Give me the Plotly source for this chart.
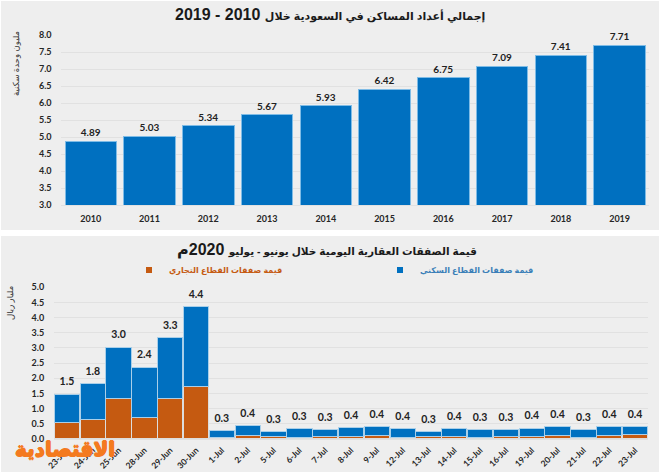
import plotly.graph_objects as go

W, H = 660, 472
years = ["2010","2011","2012","2013","2014","2015","2016","2017","2018","2019"]
dwellings = [4.89,5.03,5.34,5.67,5.93,6.42,6.75,7.09,7.41,7.71]

days = ["23-Jun","24-Jun","25-Jun","28-Jun","29-Jun","30-Jun","1-Jul","2-Jul","5-Jul","6-Jul","7-Jul","8-Jul",
        "9-Jul","12-Jul","13-Jul","14-Jul","15-Jul","16-Jul","19-Jul","20-Jul","21-Jul","22-Jul","23-Jul"]
commercial = [0.54,0.65,1.34,0.72,1.35,1.72,0.04,0.12,0.08,0.05,0.08,0.08,0.12,0.04,0.07,0.07,0.05,0.08,0.08,0.12,0.04,0.11,0.14]
residential = [0.94,1.17,1.69,1.65,1.98,2.65,0.23,0.32,0.17,0.29,0.22,0.29,0.30,0.30,0.17,0.26,0.25,0.24,0.28,0.30,0.26,0.31,0.26]
totals = [1.48,1.82,3.03,2.37,3.33,4.37,0.27,0.44,0.25,0.34,0.30,0.37,0.42,0.34,0.24,0.33,0.30,0.32,0.36,0.42,0.30,0.42,0.40]
total_labels = ["1.5","1.8","3.0","2.4","3.3","4.4","0.3","0.4","0.3","0.3","0.3","0.4","0.4","0.4","0.3","0.4","0.3","0.3","0.4","0.4","0.3","0.4","0.4"]

title_top_ar = "إجمالي أعداد المساكن في السعودية خلال"
title_top_num = "2010 - 2019"
title_bottom_ar = "قيمة الصفقات العقارية اليومية خلال يونيو - يوليو"
title_bottom_num = "2020م"
ytitle_top = "مليون وحدة سكنية"
ytitle_bottom = "مليار ريال"
name_res = "قيمة صفقات القطاع السكني"
name_com = "قيمة صفقات القطاع التجاري"
watermark = "الاقتصادية"

BLUE, ORANGE = "#0070c0", "#c55a11"
PANEL, GRID = "#eeeeee", "#e1e1e1"
WM = "#f47a1f"
TICK = "Lato, Liberation Sans, DejaVu Sans"
ARAB = "Liberation Sans, DejaVu Sans"

def px(x): return x / W
def py(y): return 1 - y / H
def mixed(ar, num, ar_size):
    return f'<span style="font-size:{ar_size}px">{ar}</span> <span style="font-size:16px">{num}</span>'

fig = go.Figure()
fig.add_trace(go.Bar(x=years, y=dwellings, xaxis="x", yaxis="y", width=0.875, marker=dict(color=BLUE, line=dict(color="#7fbce6", width=1)),
                     text=[f"{v:.2f}" for v in dwellings], textposition="outside", cliponaxis=False,
                     textfont=dict(family=TICK, size=10, color="#222222", weight=700), showlegend=False))
fig.add_trace(go.Bar(x=days, y=commercial, xaxis="x2", yaxis="y2", width=0.98, showlegend=False,
                     marker=dict(color=ORANGE, line=dict(color="#dddddd", width=1))))
fig.add_trace(go.Bar(x=days, y=residential, xaxis="x2", yaxis="y2", width=0.98, showlegend=False,
                     marker=dict(color=BLUE, line=dict(color="#a9cfe9", width=1))))
fig.add_trace(go.Scatter(x=days, y=totals, xaxis="x2", yaxis="y2", mode="markers+text", text=total_labels, textposition="top center",
                         marker=dict(size=8, opacity=0), textfont=dict(family=TICK, size=10.5, color="#222222", weight=700),
                         showlegend=False, cliponaxis=False, hoverinfo="skip"))
# legend keys with the small square markers of the reference
fig.add_trace(go.Scatter(x=[None], y=[None], xaxis="x2", yaxis="y2", mode="markers", name=f'<span style="color:{ORANGE}">{name_com}</span>',
                         marker=dict(symbol="square", size=6, color=ORANGE)))
fig.add_trace(go.Scatter(x=[None], y=[None], xaxis="x2", yaxis="y2", mode="markers", name=f'<span style="color:#3a7fb8">{name_res}</span>',
                         marker=dict(symbol="square", size=6, color=BLUE)))

axis_font = dict(family=TICK, size=9, color="#262626", weight=700)
clear = "rgba(0,0,0,0)"
fig.update_layout(
    width=W, height=H, autosize=False, margin=dict(l=0, r=0, t=0, b=0),
    paper_bgcolor="white", plot_bgcolor=clear, barmode="stack",
    xaxis=dict(domain=[px(61.4), px(649)], anchor="y", type="category", tickfont=axis_font, showgrid=False, automargin=False,
               ticks="outside", ticklen=5, tickcolor=clear, showline=True, linecolor=GRID),
    yaxis=dict(domain=[py(205.3), py(35.3)], anchor="x", range=[3, 8], dtick=0.5, tickformat=".1f", tickfont=axis_font, automargin=False,
               gridcolor=GRID, zeroline=False, ticks="outside", ticklen=7, tickcolor=clear, showline=False),
    xaxis2=dict(domain=[px(54), px(648)], anchor="y2", type="category", categoryorder="array", categoryarray=days, range=[-0.5, len(days) - 0.5],
                tickfont=dict(family=TICK, size=8.5, color="#262626", weight=700), tickangle=-45, showgrid=False, automargin=False,
                ticks="outside", ticklen=2, tickcolor=clear, showline=True, linecolor=GRID),
    yaxis2=dict(domain=[py(439), py(287.3)], anchor="x2", range=[0, 5], dtick=0.5, tickformat=".1f", tickfont=axis_font, automargin=False,
                gridcolor=GRID, zeroline=False, ticks="outside", ticklen=7, tickcolor=clear, showline=False),
    legend=dict(orientation="h", x=px(129), xanchor="left", y=py(270), yanchor="middle", bgcolor=clear,
                traceorder="normal", entrywidth=206, entrywidthmode="pixels", font=dict(family=ARAB, size=8, weight=700)),
    shapes=[
        dict(type="rect", xref="paper", yref="paper", x0=px(1), x1=px(659), y0=py(230), y1=py(1), fillcolor=PANEL, line_width=0, layer="below"),
        dict(type="rect", xref="paper", yref="paper", x0=px(1), x1=px(659), y0=py(472), y1=py(236), fillcolor=PANEL, line_width=0, layer="below"),
    ],
    annotations=[
        dict(text=mixed(title_top_ar, title_top_num, 11), xref="paper", yref="paper", x=px(330), y=py(14), xanchor="center", yanchor="middle", showarrow=False,
             font=dict(family=ARAB, size=16, color="#1a1a1a", weight=700)),
        dict(text=mixed(title_bottom_ar, title_bottom_num, 10.5), xref="paper", yref="paper", x=px(327), y=py(250), xanchor="center", yanchor="middle", showarrow=False,
             font=dict(family=ARAB, size=16, color="#1a1a1a", weight=700)),
        dict(text=ytitle_top, xref="paper", yref="paper", x=px(16), y=py(64), textangle=-90, xanchor="center", yanchor="middle", showarrow=False,
             font=dict(family=ARAB, size=8.5, color="#333333")),
        dict(text=ytitle_bottom, xref="paper", yref="paper", x=px(10), y=py(303), textangle=-90, xanchor="center", yanchor="middle", showarrow=False,
             font=dict(family=ARAB, size=8.5, color="#333333")),
        dict(text=watermark, xref="paper", yref="paper", x=px(65), y=py(449), xanchor="center", yanchor="middle", showarrow=False,
             font=dict(family="DejaVu Sans", size=20, color=WM, weight=700,
                       shadow=f"0.7px 0 0 {WM},-0.7px 0 0 {WM},0 0.7px 0 {WM},0 -0.7px 0 {WM}")),
    ],
)
fig.write_html("out.html", config=dict(displayModeBar=False), post_script="document.body.style.margin='0';")
